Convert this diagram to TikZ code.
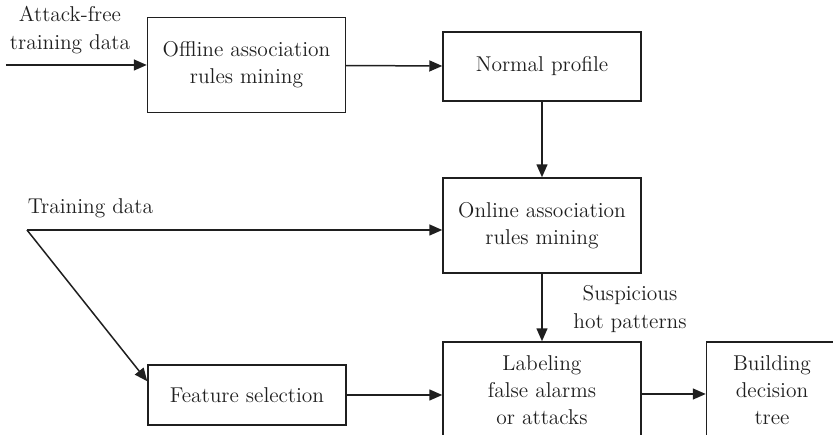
\documentclass[tikz,border=0pt]{standalone}
\usetikzlibrary{arrows.meta, calc}

\tikzset{%
    stagebox/.style = {%
        draw,
        align = center,
        minimum width = 3.96cm,
        inner sep = 2pt
    },
    flowlabel/.style = {%
        align = center,
        inner sep = 0pt
    }
}

\begin{document}
\begin{tikzpicture}[%
        > = {Triangle[length = 2.6mm, width = 2.2mm]},
        line width = 0.3mm,
        x = 0.02cm,
        y = -0.02cm,
        font = \fontsize{12.2}{15.5}\selectfont,
        color = black!88
    ]

        % Page frame; the bottom row of boxes runs off it.
        \useasboundingbox (0, 0) rectangle (833, 435);
        \clip (0, 0) rectangle (833, 435);

        % Free ends of the input lines.
        \coordinate (attackfree) at (6, 65);  % Attack-free input.
        \coordinate (split) at (27, 230);     % Training data fork.

        % Boxes.
        \node[stagebox, minimum height = 1.9cm] (offline) at (246.5, 65)
            {Offline association\\rules mining};
        \node[stagebox, minimum height = 1.38cm] (normal) at (542, 66.5)
            {Normal profile};
        \node[stagebox, minimum height = 1.9cm] (online) at (542, 225.5)
            {Online association\\rules mining};
        \node[stagebox, minimum height = 1.2cm] (feature) at (247, 395)
            {Feature selection};
        \node[stagebox, minimum height = 1.92cm] (labeling) at (542, 390)
            {Labeling\\false alarms\\or attacks};
        \node[stagebox, minimum width = 3.3cm, minimum height = 1.92cm]
            (building) at (789, 390) {};
        \node[flowlabel] (buildinglabel) at (772, 390) {Building\\decision\\tree};

        % Various labels.
        \node[flowlabel] (attacklabel) at (70, 30) {Attack-free\\training data};
        \node[flowlabel, anchor = west] (traininglabel) at (27, 208) {Training data};
        \node[flowlabel] (hotlabel) at (630, 309) {Suspicious\\hot patterns};

        % Connectors.
        \draw[->] (attackfree) to (offline.west);
        \draw[->] (offline) to (normal);
        \draw[->] (normal) to (online);
        \draw[->] (split) to (split -| online.west);
        \draw[->] (split) to ([yshift = -0.34cm]feature.north west);
        \draw[->] (online) to (labeling);
        \draw[->] (feature.east) to (feature.east -| labeling.west);
        \draw[->] ([yshift = -0.08cm]labeling.east) to
            ([yshift = -0.08cm]labeling.east -| building.west);
    \end{tikzpicture}
\end{document}
